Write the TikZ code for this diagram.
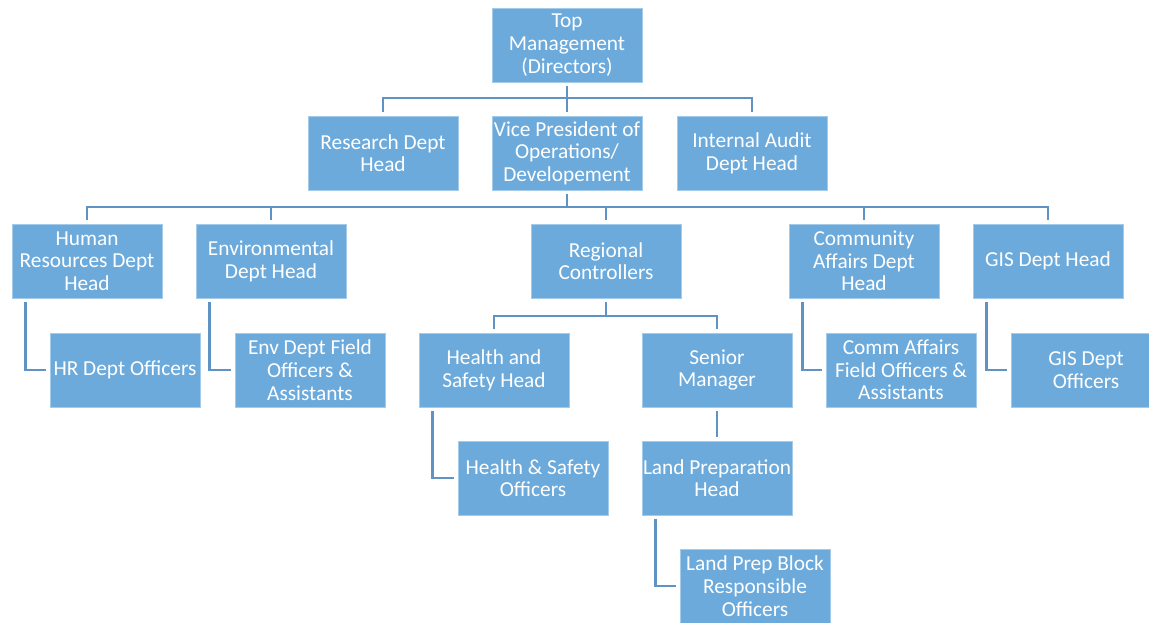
\documentclass[tikz,border=0pt]{standalone}
\usepackage{fontspec}
\setmainfont{Carlito}
\usepackage{tikz}
\usepackage{xcolor}

\definecolor{boxblue}{HTML}{6CAADC}
\definecolor{boxedge}{HTML}{A4CBEA}
\definecolor{lineblue}{HTML}{5E93C4}

\begin{document}
\begin{tikzpicture}[x=0.75pt,y=-0.75pt]
				\tikzstyle{every node}+=[inner sep=0pt]
				\tikzstyle{box}=[rectangle, fill=boxblue, draw=boxedge, line width=0.6pt, minimum width=112.5pt, minimum height=55.5pt, align=center, text=white, font=\fontsize{16}{17}\selectfont]
				\tikzstyle{line}=[lineblue, line width=2.2pt, shorten >=2.5pt]
				\tikzstyle{link}=[line, shorten <=2.5pt]
				\useasboundingbox (0,0) rectangle (1149,622);
				\clip (0,0) rectangle (1149,622);
				% boxes
				\node [box] (top) at (567,45) {Top\\Management\\(Directors)};
				\node [box] (research) at (383,153) {Research Dept\\Head};
				\node [box] (vp) at (567,153) {Vice President of\\Operations/\\Developement};
				\node [box] (audit) at (752,153) {Internal Audit\\Dept Head};
				\node [box] (hr) at (87,261) {Human\\Resources Dept\\Head};
				\node [box] (env) at (271,261) {Environmental\\Dept Head};
				\node [box] (reg) at (606,261) {Regional\\Controllers};
				\node [box] (comm) at (864,261) {Community\\Affairs Dept\\Head};
				\node [box] (gis) at (1048,261) {GIS Dept Head};
				\node [box] (hro) at (125,370) {HR Dept Officers};
				\node [box] (envo) at (310,370) {Env Dept Field\\Officers \&\\Assistants};
				\node [box] (hs) at (494,370) {Health and\\Safety Head};
				\node [box] (sm) at (717,370) {Senior\\Manager};
				\node [box] (commo) at (901,370) {Comm Affairs\\Field Officers \&\\Assistants};
				\node [box] (giso) at (1086,370) {GIS Dept\\Officers};
				\node [box] (hso) at (533,478) {Health \& Safety\\Officers};
				\node [box] (lp) at (717,478) {Land Preparation\\Head};
				\node [box] (lpb) at (755,586) {Land Prep Block\\Responsible\\Officers};
				% bar levels
				\coordinate (bar1) at (567,98);
				\coordinate (bar2) at (567,207);
				\coordinate (bar3) at (606,316);
				% top level
				\draw [link] (top) -- (vp);
				\draw [link] (research.north) -- (research.north |- bar1) -- (audit.north |- bar1) -- (audit.north);
				% vice president level
				\draw [line] (vp.south |- bar2) -- (vp.south);
				\draw [link] (hr.north) -- (hr.north |- bar2) -- (gis.north |- bar2) -- (gis.north);
				\draw [line] (env.north |- bar2) -- (env.north);
				\draw [line] (reg.north |- bar2) -- (reg.north);
				\draw [line] (comm.north |- bar2) -- (comm.north);
				% regional level
				\draw [line] (reg.south |- bar3) -- (reg.south);
				\draw [link] (hs.north) -- (hs.north |- bar3) -- (sm.north |- bar3) -- (sm.north);
				\draw [link] (sm) -- (lp);
				% side links
				\draw [link] ([xshift=10.5pt]hr.south west) |- (hro.west);
				\draw [link] ([xshift=10.5pt]env.south west) |- (envo.west);
				\draw [link] ([xshift=10.5pt]comm.south west) |- (commo.west);
				\draw [link] ([xshift=10.5pt]gis.south west) |- (giso.west);
				\draw [link] ([xshift=10.5pt]hs.south west) |- (hso.west);
				\draw [link] ([xshift=10.5pt]lp.south west) |- (lpb.west);
\end{tikzpicture}
\end{document}
